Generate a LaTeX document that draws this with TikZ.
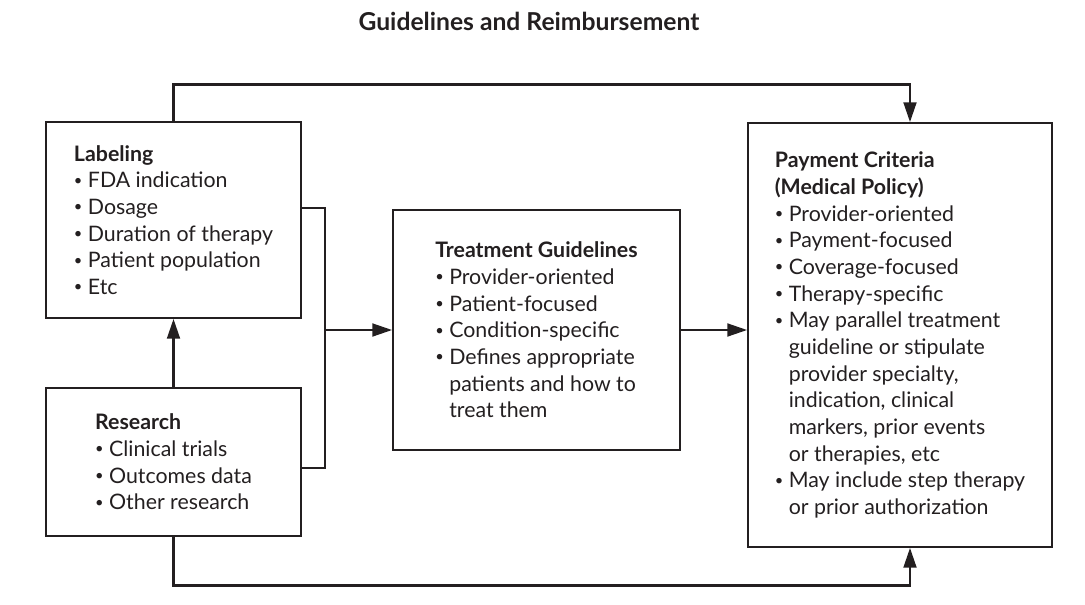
\documentclass[tikz,border=0pt]{standalone}
\usepackage{fontspec}
\setmainfont{Lato}
\usetikzlibrary{arrows.meta}

\definecolor{ink}{HTML}{231F20}
\newcommand{\itm}{\raisebox{0.12em}{\fontsize{11}{11}\selectfont\textbullet}\ }
\newcommand{\ind}{\phantom{\itm}}

\tikzset{
    box/.style={rectangle, draw=ink, line width=1.1pt, align=left, text=ink,
        font=\fontsize{16}{20}\selectfont, inner sep=0pt},
    conn/.style={draw=ink, line width=2.2pt},
    arr/.style={conn, -{Triangle[length=15pt,width=9.5pt]}}
}

\begin{document}
\begin{tikzpicture}[x=0.75pt,y=-0.75pt]

    \useasboundingbox (0,0) rectangle (1085,604);

    \node[text=ink, font=\bfseries\fontsize{18.5}{20}\selectfont] (title) at (529,21) {Guidelines and Reimbursement};

    % boxes
    \node[box, minimum width=191.25pt, minimum height=147pt] (lab) at (173.5,220) {%
        \textbf{Labeling}\\
        \itm FDA indication\\
        \itm Dosage\\
        \itm Duration of therapy\\
        \itm Patient population\\
        \itm Etc};
    \node[box, minimum width=191.25pt, minimum height=111pt] (res) at (173.5,462) {%
        \textbf{Research}\\
        \itm Clinical trials\\
        \itm Outcomes data\\
        \itm Other research};
    \node[box, minimum width=215.25pt, minimum height=180pt] (treat) at (536.5,330) {%
        \textbf{Treatment Guidelines}\\
        \itm Provider-oriented\\
        \itm Patient-focused\\
        \itm Condition-specific\\
        \itm Defines appropriate\\
        \ind patients and how to\\
        \ind treat them};
    \node[box, minimum width=228pt, minimum height=318pt] (pay) at (900,335) {%
        \textbf{Payment Criteria}\\
        \textbf{(Medical Policy)}\\
        \itm Provider-oriented\\
        \itm Payment-focused\\
        \itm Coverage-focused\\
        \itm Therapy-specific\\
        \itm May parallel treatment\\
        \ind guideline or stipulate\\
        \ind provider specialty,\\
        \ind indication, clinical\\
        \ind markers, prior events\\
        \ind or therapies, etc\\
        \itm May include step therapy\\
        \ind or prior authorization};

    \coordinate (jn) at (325,330);

    % connectors
    \draw[arr] (res.north) -- (lab.south);
    \draw[conn] ([yshift=9pt]lab.east) -| (jn) |- ([yshift=-4.5pt]res.east);
    \draw[arr] (jn) -- (treat.west);
    \draw[arr] (treat.east) -- (treat.east -| pay.west);
    \draw[arr] (lab.north) -- ++(0,-37) -| ([xshift=7.5pt]pay.north);
    \draw[arr] (res.south) -- ++(0,49) -| ([xshift=7.5pt]pay.south);

\end{tikzpicture}
\end{document}
